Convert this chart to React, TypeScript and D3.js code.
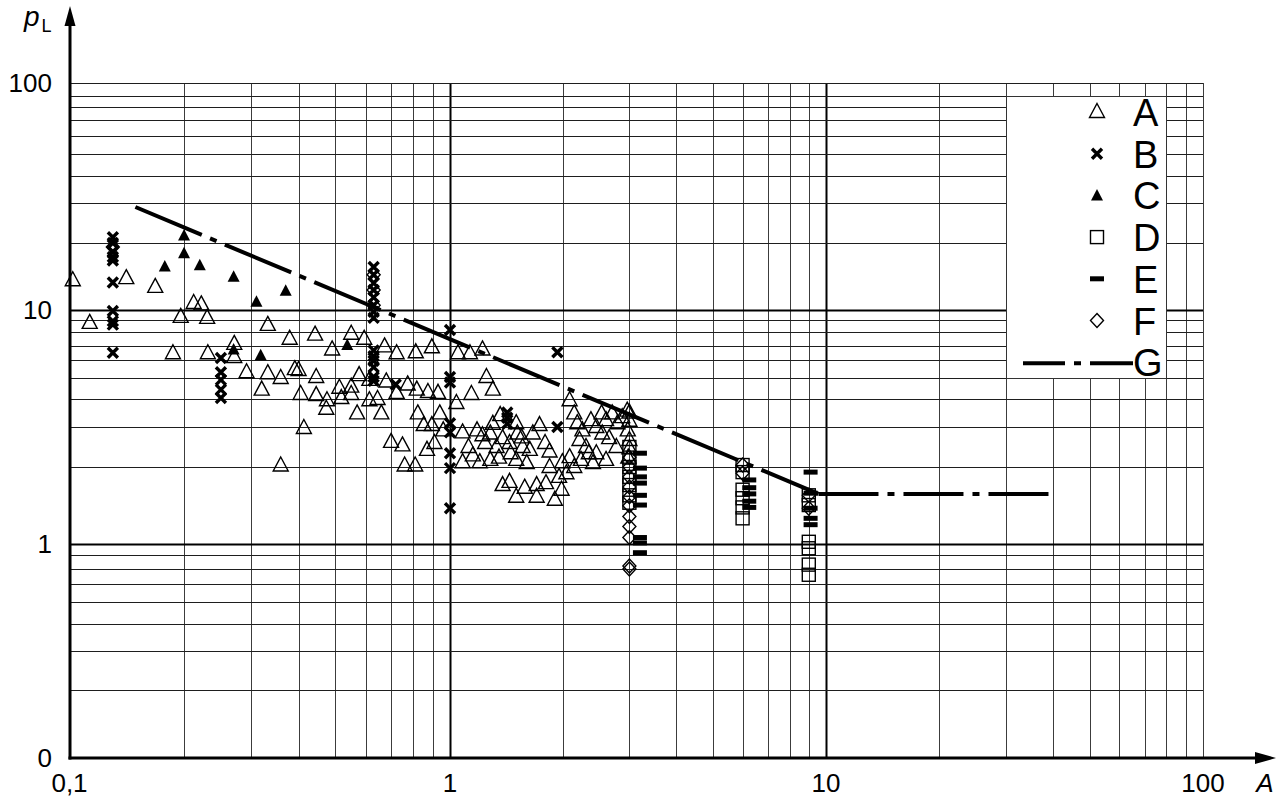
import React, { useRef, useEffect } from 'react';
import * as d3 from 'd3';

// A - open triangles
const seriesA: [number, number][] = [
  [0.102, 13.6], [0.113, 8.75], [0.141, 13.9], [0.168, 12.7], [0.187, 6.46], [0.196, 9.3],
  [0.212, 10.75], [0.222, 10.6], [0.23, 9.2], [0.231, 6.46], [0.271, 7.14], [0.271, 6.2],
  [0.292, 5.3], [0.332, 8.58], [0.332, 5.25], [0.359, 5.0], [0.32, 4.42], [0.379, 7.5],
  [0.391, 5.47], [0.405, 4.22], [0.413, 2.97], [0.359, 2.03],
  [0.442, 7.8], [0.49, 6.74], [0.55, 7.87], [0.595, 7.5], [0.673, 6.97], [0.724, 6.46],
  [0.813, 6.53], [0.896, 6.9], [1.05, 6.46], [1.13, 6.46], [1.22, 6.74],
  [0.4, 5.42], [0.445, 5.05], [0.577, 5.15], [0.445, 4.17], [0.475, 3.95], [0.473, 3.62],
  [0.512, 4.51], [0.518, 4.04], [0.55, 4.56], [0.55, 4.22], [0.57, 3.45], [0.614, 3.95],
  [0.645, 4.0], [0.66, 3.45], [0.614, 4.9], [0.68, 4.82], [0.724, 4.27], [0.774, 4.67],
  [0.818, 4.42], [0.875, 4.31], [0.93, 4.27], [0.823, 3.45], [0.853, 3.06], [0.896, 3.06],
  [0.94, 3.45], [1.08, 2.84], [1.04, 3.84], [1.14, 4.22], [1.25, 5.05], [1.3, 4.42],
  [0.7, 2.58], [0.75, 2.49], [0.76, 2.03], [0.81, 2.03], [0.87, 2.38], [0.91, 2.55], [0.96, 2.9],
  [1.22, 2.76], [1.28, 2.81], [1.36, 3.39], [1.5, 3.12], [1.51, 2.81], [1.38, 2.68],
  [1.24, 2.55], [1.15, 2.25], [1.08, 2.1], [1.28, 2.15], [1.33, 2.45], [1.44, 2.55],
  [1.56, 2.45], [1.63, 2.38], [1.73, 3.06], [1.66, 2.81], [1.79, 2.55], [1.84, 2.34],
  [1.5, 2.15], [1.6, 2.08], [1.38, 1.7], [1.44, 1.75], [1.5, 1.53], [1.58, 1.66],
  [1.7, 1.7], [1.7, 1.53], [1.8, 1.73], [1.9, 1.49], [1.98, 1.63], [1.84, 2.0],
  [1.95, 1.83], [1.99, 2.1], [2.08, 2.21], [2.04, 1.89], [2.14, 2.0], [2.08, 3.95],
  [2.14, 3.45], [2.18, 3.12], [2.25, 2.9], [2.21, 2.63], [2.3, 2.45], [2.23, 2.15],
  [2.34, 2.3], [2.37, 3.22], [2.45, 3.0], [2.53, 3.45], [2.6, 3.22], [2.7, 3.45],
  [2.79, 3.12], [2.87, 3.32], [2.96, 3.55], [2.54, 2.81], [2.65, 2.68], [2.77, 2.45],
  [2.45, 2.3], [2.6, 2.15], [2.4, 2.08],
  [3.0, 3.48], [3.0, 3.2], [2.97, 2.9], [3.0, 2.63], [3.0, 2.42], [2.98, 2.2],
  [1.12, 2.45], [1.18, 2.9], [1.3, 3.1], [1.2, 2.1], [1.35, 2.2], [1.45, 2.3], [1.55, 2.7],
];

// B - crosses
const seriesB: [number, number][] = [
  [0.13, 21.2], [0.13, 20.0], [0.13, 18.3], [0.13, 17.3], [0.13, 16.7], [0.13, 13.3],
  [0.13, 9.9], [0.13, 8.9], [0.13, 8.6], [0.13, 6.5],
  [0.25, 6.13], [0.25, 5.3], [0.25, 4.9], [0.25, 4.42], [0.25, 4.04],
  [0.63, 15.6], [0.63, 14.4], [0.63, 13.2], [0.63, 12.3], [0.63, 11.4], [0.63, 10.5],
  [0.63, 9.8], [0.63, 9.2], [0.63, 6.67], [0.63, 6.26], [0.63, 5.95], [0.63, 5.58],
  [0.63, 5.05], [0.63, 4.85], [0.72, 4.67],
  [1.0, 8.16], [1.0, 5.05], [1.0, 4.77], [1.0, 3.12], [1.0, 2.84], [1.0, 2.3], [1.0, 1.98], [1.0, 1.38],
  [1.42, 3.48], [1.42, 3.3], [1.42, 3.1],
  [1.93, 6.53], [1.93, 3.0],
];

// C - filled triangles
const seriesC: [number, number][] = [
  [0.2, 21.6], [0.2, 18.0], [0.178, 15.7], [0.22, 15.9], [0.27, 14.1], [0.31, 10.9],
  [0.37, 12.2], [0.318, 6.33], [0.27, 6.74], [0.537, 7.07],
];

// D - open squares
const seriesD: [number, number][] = [
  [3.0, 2.45], [3.0, 2.2], [3.0, 2.0], [3.0, 1.83], [3.0, 1.7], [3.0, 1.55], [3.0, 1.45],
  [6.0, 2.04], [6.0, 1.91], [6.0, 1.63], [6.0, 1.51], [6.0, 1.39], [6.0, 1.26],
  [9.0, 1.55], [9.0, 1.42], [9.0, 1.02], [9.0, 0.96], [9.0, 0.83], [9.0, 0.76],
];

// E - filled bars
const seriesE: [number, number][] = [
  [3.2, 2.3], [3.2, 1.98], [3.2, 1.83], [3.2, 1.73], [3.2, 1.55], [3.2, 1.42],
  [3.2, 1.06], [3.2, 1.01], [3.2, 0.92],
  [6.25, 1.78], [6.25, 1.66], [6.25, 1.57], [6.25, 1.47], [6.25, 1.39],
  [9.1, 1.91], [9.1, 1.58], [9.1, 1.38], [9.1, 1.26], [9.1, 1.19],
];

// F - open diamonds
const seriesF: [number, number][] = [
  [0.13, 19.2], [0.63, 14.4], [0.63, 12.3], [0.63, 10.5],
  [3.0, 2.21], [3.0, 2.0], [3.0, 1.83], [3.0, 1.67], [3.0, 1.53], [3.0, 1.41],
  [3.0, 1.28], [3.0, 1.17], [3.0, 1.06], [3.0, 0.82], [3.0, 0.8],
  [6.0, 2.04], [6.0, 1.89], [9.0, 1.55], [9.0, 1.38],
];

// G - limit line
const limitSlope: [number, number][] = [[0.149, 28.8], [9.55, 1.57]];
const limitFlat: [number, number][] = [[9.55, 1.57], [40, 1.57]];

const legendKeys = ['A', 'B', 'C', 'D', 'E', 'F', 'G'];

const xGrid = [0.2, 0.3, 0.4, 0.5, 0.6, 0.7, 0.8, 0.9, 1, 2, 3, 4, 5, 6, 7, 8, 9, 10,
  20, 30, 40, 50, 60, 70, 80, 90, 100];
const yGrid = [0.3, 0.4, 0.5, 0.6, 0.7, 0.8, 0.9, 1, 2, 3, 4, 5, 6, 7, 8, 9, 10,
  20, 30, 40, 50, 60, 70, 80, 90, 100];
const xTickLabels: [number, string][] = [[0.1, '0,1'], [1, '1'], [10, '10'], [100, '100']];
const yTickLabels: [number, string][] = [[100, '100'], [10, '10'], [1, '1']];

// the printed scale is not a clean log scale, so it is calibrated on its grid lines
const yGridPix = [690, 651, 624, 602, 584, 569, 555, 544, 467, 427, 399, 378, 360, 346, 332, 320, 310,
  243, 203, 176, 154, 136, 120, 107, 96, 83];

const FONT = 'Liberation Sans, Arial, Helvetica, sans-serif';
const W = 1277, H = 802;
const left = 70, bottom = 758;

const Chart = () => {
  const ref = useRef<SVGSVGElement>(null);

  useEffect(() => {
    const svg = d3.select(ref.current)
      .attr('width', W)
      .attr('height', H)
      .style('background-color', 'white');
    svg.selectAll('*').remove();

    const x = d3.scaleLog().domain([0.1, 1, 10, 100]).range([69.5, 450, 826, 1203]);
    const y = d3.scaleLog().domain(yGrid).range(yGridPix);
    const major = (d: number) => d === 1 || d === 10;

    const g = svg.append('g');

    // grid
    g.selectAll('line.vx').data(xGrid).enter().append('line')
      .attr('x1', d => Math.round(x(d)) + 0.5).attr('x2', d => Math.round(x(d)) + 0.5)
      .attr('y1', y(100)).attr('y2', bottom)
      .attr('stroke', d => major(d) ? '#000' : '#3c3c3c')
      .attr('stroke-width', d => major(d) ? 2 : 1);
    g.selectAll('line.hy').data(yGrid).enter().append('line')
      .attr('x1', left).attr('x2', x(100))
      .attr('y1', d => Math.round(y(d)) + 0.5).attr('y2', d => Math.round(y(d)) + 0.5)
      .attr('stroke', d => major(d) ? '#000' : '#1e1e1e')
      .attr('stroke-width', d => major(d) ? 2 : 1);

    // legend box cut out of grid
    g.append('rect')
      .attr('x', Math.round(x(30)) + 0.5).attr('y', Math.round(y(90)) + 0.5)
      .attr('width', Math.round(x(80)) - Math.round(x(30)))
      .attr('height', Math.round(y(5)) - Math.round(y(90)))
      .attr('fill', 'white').attr('stroke', '#333').attr('stroke-width', 1);

    // axes
    g.append('line').attr('x1', left).attr('x2', left).attr('y1', bottom + 1.5).attr('y2', 24)
      .attr('stroke', '#000').attr('stroke-width', 3);
    g.append('path').attr('d', `M${left},6 L${left - 5.5},26 L${left + 5.5},26 Z`).attr('fill', '#000');
    g.append('line').attr('x1', left - 1.5).attr('x2', 1258).attr('y1', bottom).attr('y2', bottom)
      .attr('stroke', '#000').attr('stroke-width', 3);
    g.append('path').attr('d', `M1276,${bottom} L1255,${bottom - 6} L1255,${bottom + 6} Z`).attr('fill', '#000');

    // tick labels
    const txt = (sel: any) => sel.attr('font-family', FONT).attr('font-size', 26).attr('fill', '#000');
    yTickLabels.forEach(([v, s]) => {
      txt(g.append('text')).attr('x', 52).attr('y', y(v) + 9).attr('text-anchor', 'end').text(s);
    });
    txt(g.append('text')).attr('x', 52).attr('y', bottom + 9).attr('text-anchor', 'end').text('0');
    xTickLabels.forEach(([v, s]) => {
      txt(g.append('text')).attr('x', x(v)).attr('y', 792).attr('text-anchor', 'middle').text(s);
    });
    txt(g.append('text')).attr('x', 1265).attr('y', 792).attr('text-anchor', 'middle')
      .attr('font-style', 'italic').text('A');
    const pl = txt(g.append('text')).attr('x', 24).attr('y', 26).attr('font-style', 'italic')
      .attr('font-size', 28);
    pl.append('tspan').text('p');
    pl.append('tspan').attr('font-style', 'normal').attr('font-size', 18).attr('dy', 6).attr('dx', 2).text('L');

    // markers
    const tri = 'M0,-8.5L7.5,5.5L-7.5,5.5Z';
    const triSmall = 'M0,-6.5L6,5L-6,5Z';
    const cross = 'M-5,-5L5,5M-5,5L5,-5';
    const diamond = 'M0,-7L6.5,0L0,7L-6.5,0Z';

    const draw = {
      A: (sel: any) => sel.append('path').attr('d', tri).attr('fill', 'none').attr('stroke', '#000').attr('stroke-width', 1.4),
      B: (sel: any) => sel.append('path').attr('d', cross).attr('fill', 'none').attr('stroke', '#000').attr('stroke-width', 3.4),
      C: (sel: any) => sel.append('path').attr('d', triSmall).attr('fill', '#000'),
      D: (sel: any) => sel.append('rect').attr('x', -6.5).attr('y', -6.5).attr('width', 13).attr('height', 13)
        .attr('fill', 'none').attr('stroke', '#000').attr('stroke-width', 1.4),
      E: (sel: any) => sel.append('rect').attr('x', -7).attr('y', -2.5).attr('width', 14).attr('height', 5).attr('fill', '#000'),
      F: (sel: any) => sel.append('path').attr('d', diamond).attr('fill', 'none').attr('stroke', '#000').attr('stroke-width', 1.4),
    };

    const plot = (data: [number, number][], key: keyof typeof draw) => {
      const pts = g.append('g').selectAll('g').data(data).enter().append('g')
        .attr('transform', d => `translate(${x(d[0])},${y(d[1])})`);
      draw[key](pts);
    };
    plot(seriesA, 'A');
    plot(seriesD, 'D');
    plot(seriesF, 'F');
    plot(seriesE, 'E');
    plot(seriesC, 'C');
    plot(seriesB, 'B');

    // limit line G
    const line = d3.line<[number, number]>().x(d => x(d[0])).y(d => y(d[1]));
    g.append('path').attr('d', line(limitSlope)).attr('fill', 'none').attr('stroke', '#000')
      .attr('stroke-width', 4).attr('stroke-dasharray', '72 9 7 9');
    g.append('path').attr('d', line(limitFlat)).attr('fill', 'none').attr('stroke', '#000')
      .attr('stroke-width', 4).attr('stroke-dasharray', '60 9 7 9');

    // legend
    legendKeys.forEach((k, i) => {
      const cy = 112 + i * 41.7;
      if (k === 'G') {
        g.append('line').attr('x1', 1023).attr('x2', 1133).attr('y1', cy + 1).attr('y2', cy + 1)
          .attr('stroke', '#000').attr('stroke-width', 4).attr('stroke-dasharray', '42 9 7 9 43');
      } else {
        const m = g.append('g').attr('transform', `translate(1097,${cy})`);
        draw[k as keyof typeof draw](m);
      }
      g.append('text').attr('x', 1133).attr('y', cy + 14).attr('font-family', FONT)
        .attr('font-size', 38).attr('fill', '#000').text(k);
    });
  }, []);

  return (
    <div style={{ position: 'absolute', left: 0, top: 0 }}>
      <svg ref={ref}></svg>
    </div>
  );
};

export default function App() {
  return <Chart />;
}
